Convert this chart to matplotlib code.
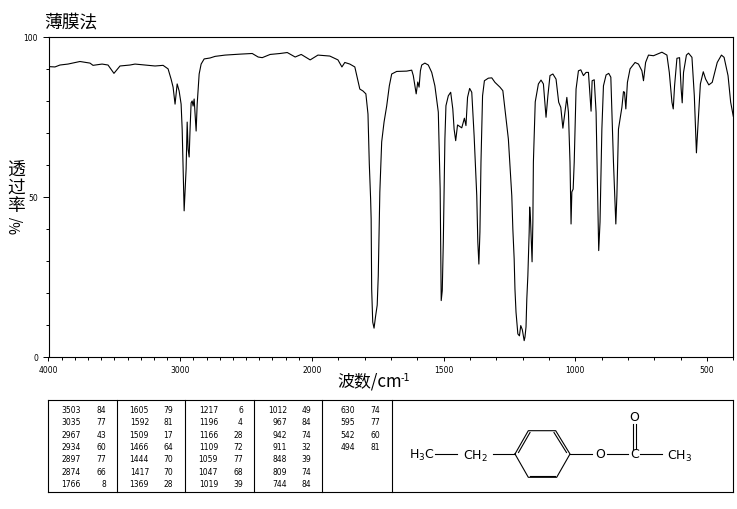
import numpy as np
import matplotlib
matplotlib.use("Agg")
import matplotlib.pyplot as plt

plt.rcParams['font.family'] = ['Noto Sans CJK SC', 'DejaVu Sans']

# Espectro
wavenumber = [3996, 3951, 3913, 3852, 3761, 3685, 3662, 3593, 3548, 3503, 3457, 3381, 3343, 3267, 3191, 3130,
              3092, 3069, 3054, 3039, 3023, 3008, 2993, 2985, 2978, 2970, 2955, 2947, 2940, 2932, 2925, 2917,
              2909, 2902, 2894, 2887, 2879, 2871, 2856, 2841, 2818, 2773, 2735, 2659, 2545, 2453, 2408, 2377,
              2317, 2241, 2187, 2127, 2081, 2013, 1977, 1932, 1901, 1886, 1875, 1856, 1837, 1818, 1806, 1795,
              1787, 1782, 1777, 1775, 1773, 1769, 1764, 1758, 1752, 1748, 1745, 1742, 1735, 1726, 1716, 1706,
              1697, 1678, 1640, 1621, 1615, 1609, 1604, 1598, 1593, 1588, 1583, 1571, 1558, 1545, 1533, 1520,
              1516, 1513, 1511, 1509, 1505, 1501, 1495, 1491, 1482, 1473, 1465, 1460, 1454, 1447, 1431, 1421,
              1415, 1409, 1401, 1393, 1384, 1374, 1370, 1366, 1362, 1358, 1352, 1345, 1330, 1317, 1305, 1286,
              1275, 1267, 1254, 1241, 1237, 1232, 1229, 1225, 1218, 1212, 1207, 1201, 1194, 1191, 1187, 1184,
              1180, 1175, 1173, 1170, 1164, 1161, 1159, 1152, 1140, 1130, 1121, 1111, 1104, 1096, 1085, 1073,
              1063, 1055, 1047, 1039, 1032, 1026, 1020, 1016, 1013, 1008, 1004, 997, 988, 979, 969, 959,
              950, 944, 940, 936, 928, 921, 913, 911, 906, 899, 893, 883, 873, 865, 855, 846,
              842, 836, 830, 823, 817, 813, 808, 802, 792, 773, 760, 747, 741, 733, 722, 703,
              671, 652, 643, 633, 628, 623, 614, 604, 598, 594, 589, 578, 570, 557, 548, 540,
              535, 525, 514, 505, 493, 480, 461, 445, 435, 420, 410, 400]
transmittance = [90.6, 90.5, 91.1, 91.4, 92.2, 91.7, 91.0, 91.4, 91.1, 88.5, 90.8, 91.1, 91.4, 91.1, 90.8, 91.0,
                 89.9, 86.7, 84.2, 78.9, 85.2, 83.0, 78.9, 71.1, 58.7, 45.6, 58.7, 73.3, 64.9, 62.4, 71.1, 79.3,
                 79.9, 78.3, 80.5, 75.8, 70.5, 78.9, 88.3, 91.4, 93.0, 93.3, 93.8, 94.2, 94.5, 94.7, 93.6, 93.4,
                 94.4, 94.7, 95.0, 93.6, 94.4, 92.7, 94.2, 93.9, 92.7, 90.5, 91.9, 91.4, 90.5, 83.6, 83.0, 82.1,
                 75.8, 60.2, 49.3, 43.1, 21.2, 10.9, 9.0, 12.8, 16.2, 25.3, 39.0, 51.5, 67.1, 73.3, 78.3, 84.6,
                 88.3, 89.1, 89.2, 89.5, 87.8, 84.6, 82.1, 85.8, 84.2, 89.3, 91.1, 91.7, 91.1, 88.8, 84.6, 76.4,
                 62.8, 52.4, 34.7, 17.6, 20.7, 35.9, 68.0, 78.4, 81.5, 82.6, 77.4, 71.1, 67.5, 72.4, 71.5, 74.5,
                 72.2, 81.0, 83.8, 82.6, 69.0, 50.3, 35.9, 29.0, 39.0, 60.8, 81.5, 86.2, 87.0, 87.1, 85.7, 84.2,
                 83.1, 77.4, 68.0, 50.3, 39.9, 30.6, 21.2, 14.0, 7.2, 6.6, 9.8, 8.5, 5.1, 6.2, 9.4, 18.1,
                 25.4, 39.0, 46.8, 43.1, 29.7, 42.0, 60.8, 79.6, 85.2, 86.4, 85.2, 74.8, 81.5, 87.8, 88.3, 86.7,
                 79.5, 77.9, 71.4, 76.4, 81.0, 76.4, 60.8, 41.5, 51.5, 52.4, 60.8, 83.6, 89.3, 89.6, 87.8, 88.8,
                 88.8, 81.5, 76.7, 86.2, 86.5, 76.4, 42.1, 33.2, 42.1, 71.1, 84.6, 88.0, 88.5, 87.3, 60.8, 41.5,
                 50.3, 71.1, 74.3, 77.9, 82.8, 82.6, 77.4, 85.7, 89.9, 91.9, 91.4, 89.3, 86.2, 91.9, 94.2, 94.0,
                 95.1, 94.2, 88.8, 79.5, 77.4, 84.6, 93.2, 93.4, 83.6, 79.3, 88.8, 94.2, 94.8, 93.5, 81.5, 63.7,
                 71.1, 85.2, 89.0, 86.7, 84.9, 85.7, 91.9, 94.2, 93.5, 87.8, 79.5, 75.1]

x_labels = [4000, 3000, 2000, 1500, 1000, 500]
y_labels = [0, 50, 100]

# Tabla de picos, una lista por columna
peak_wn = [[3503, 3035, 2967, 2934, 2897, 2874, 1766],
           [1605, 1592, 1509, 1466, 1444, 1417, 1369],
           [1217, 1196, 1166, 1109, 1059, 1047, 1019],
           [1012, 967, 942, 911, 848, 809, 744],
           [630, 595, 542, 494]]
peak_t = [[84, 77, 43, 60, 77, 66, 8],
          [79, 81, 17, 64, 70, 70, 28],
          [6, 4, 28, 72, 77, 68, 39],
          [49, 84, 74, 32, 39, 74, 84],
          [74, 77, 60, 81]]


# El eje x cambia de escala en 2000 cm-1
def forward(x):
    x = np.asarray(x, dtype=float)
    return np.where(x < 2000, x, 2000 + (x - 2000) / 2)


def inverse(x):
    x = np.asarray(x, dtype=float)
    return np.where(x < 2000, x, 2000 + (x - 2000) * 2)


W, H = 737, 510
fig = plt.figure(figsize=(W / 100, H / 100), dpi=100)
ax = fig.add_axes([48.5 / W, 1 - 358 / H, (733.3 - 48.5) / W, (358 - 37.5) / H])
ax.set_xscale('function', functions=(forward, inverse))
ax.plot(wavenumber, transmittance, color='black', lw=0.8)
ax.set_xlim(4000, 400)
ax.set_ylim(0, 100)
ax.set_xticks(x_labels)
ax.set_xticklabels([str(v) for v in x_labels], fontsize=5.5, family='DejaVu Sans')
ax.set_xticks(np.arange(400, 4001, 100), minor=True)
ax.set_yticks(y_labels)
ax.set_yticklabels([str(v) for v in y_labels], fontsize=5.5, family='DejaVu Sans')
ax.set_yticks(np.arange(0, 101, 10), minor=True)
ax.tick_params(axis='x', which='major', length=3, width=0.7, pad=2.5)
ax.tick_params(axis='x', which='minor', length=2, width=0.7)
ax.tick_params(axis='y', which='major', length=4, width=0.7, pad=3.5)
ax.tick_params(axis='y', which='minor', length=2, width=0.7)
for s in ax.spines.values():
    s.set_linewidth(0.8)

# Capa en pixeles para titulo, etiquetas, tabla y estructura
ov = fig.add_axes([0, 0, 1, 1])
ov.set_xlim(0, W)
ov.set_ylim(H, 0)
ov.axis('off')
ov.patch.set_alpha(0)

ov.text(44, 22, '薄膜法', fontsize=12.8, va='center', ha='left')
for ch, yc in zip('透过率', [170, 188, 206]):
    ov.text(16, yc, ch, fontsize=12.8, va='center', ha='center')
ov.text(17, 225, '%/', fontsize=10, va='center', ha='center', rotation=90)
ov.text(337, 382, '波数/cm', fontsize=12.2, va='center', ha='left')
ov.text(401, 378, '-1', fontsize=7, family='DejaVu Sans', va='center', ha='left')

# Tabla
col_edges = [48.3, 117.3, 185.3, 254.3, 322.3, 391.7, 733]
for xe in col_edges:
    ov.plot([xe, xe], [401.3, 493.3], color='black', lw=0.8)
ov.plot([48.3, 733], [401.3, 401.3], color='black', lw=0.8)
ov.plot([48.3, 733], [493.3, 493.3], color='black', lw=0.8)
wn_right = [81, 149, 218, 287, 355]
t_right = [106, 173, 243, 311, 380]
for c in range(5):
    for r in range(len(peak_wn[c])):
        y = 410.7 + 12.3 * r
        ov.text(wn_right[c], y, str(peak_wn[c][r]), fontsize=5.5, family='DejaVu Sans', ha='right', va='center')
        ov.text(t_right[c], y, str(peak_t[c][r]), fontsize=5.5, family='DejaVu Sans', ha='right', va='center')

# Estructura
ring_x = [515, 528.3, 555.7, 570, 556.7, 528.3, 515]
ring_y = [455, 431.7, 431.7, 455, 478.3, 478.3, 455]
ov.plot(ring_x, ring_y, color='black', lw=0.8)
ov.plot([518.5, 530], [453.5, 433.5], color='black', lw=0.8)
ov.plot([554, 566.5], [433.5, 453.5], color='black', lw=0.8)
ov.plot([530, 555], [476.5, 476.5], color='black', lw=0.8)
for a, b in [(435, 456.7), (493.3, 515), (570, 591.7), (606.7, 628.3), (640, 661.7)]:
    ov.plot([a, b], [455, 455], color='black', lw=0.8)
ov.plot([632.6, 632.6], [425, 450], color='black', lw=0.8)
ov.plot([635.8, 635.8], [425, 450], color='black', lw=0.8)
ov.text(422, 455, 'H$_3$C', fontsize=9, family='DejaVu Sans', ha='center', va='center')
ov.text(475, 456, 'CH$_2$', fontsize=9, family='DejaVu Sans', ha='center', va='center')
ov.text(600, 455, 'O', fontsize=9, family='DejaVu Sans', ha='center', va='center')
ov.text(634.5, 455, 'C', fontsize=9, family='DejaVu Sans', ha='center', va='center')
ov.text(634.5, 417.5, 'O', fontsize=9, family='DejaVu Sans', ha='center', va='center')
ov.text(680, 456, 'CH$_3$', fontsize=9, family='DejaVu Sans', ha='center', va='center')

fig.savefig('out.png', dpi=100)
